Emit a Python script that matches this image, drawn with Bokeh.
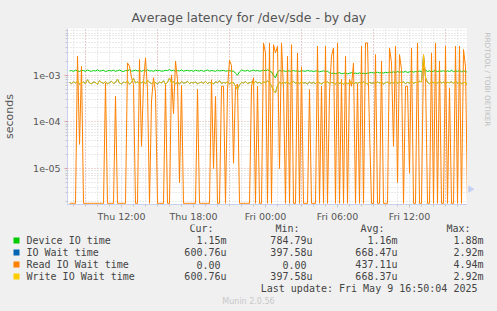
import numpy as np
import pandas as pd
from bokeh.plotting import figure
from bokeh.layouts import column, row
from bokeh.models import FixedTicker, CustomJSTickFormatter, Range1d
from bokeh.core.properties import value
from bokeh.embed import file_html
from bokeh.resources import INLINE

# ---------------- data ----------------
START = "2025-05-08 07:30"   # left edge of the graph
END = "2025-05-09 16:50"     # right edge / last update
STEP_MIN = 10

# latency values in microseconds, one per 10 minutes
device_us = [
    1230, 1260, 1210, 1280, 1240, 1200, 1270, 1250, 1220, 1290,
    1240, 1210, 1260, 1230, 1300, 1220, 1250, 1270, 1200, 1240,
    1260, 1230, 1280, 1210, 1250, 1290, 1230, 1200, 1260, 1240,
    1310, 1220, 1250, 1280, 1230, 1260, 1210, 1270, 1240, 1300,
    1230, 1250, 1210, 1280, 1240, 1260, 1220, 1230, 1270, 1250,
    1320, 1240, 1280, 1210, 1260, 1230, 1290, 1220, 1250, 1270,
    1230, 1260, 1210, 1280, 1240, 1230, 1270, 1210, 1250, 1290,
    1220, 1260, 1240, 1210, 1280, 1230, 1250, 1270, 1220, 1240,
    1260, 1210, 1230, 1100, 1000, 1180, 1290, 1240, 1230, 1270,
    1210, 1250, 1280, 1230, 1260, 1220, 1240, 1290, 1230, 1300,
    1250, 1180, 980, 880, 1150, 1280, 1220, 1250, 1200, 1240,
    1230, 1210, 1260, 1220, 1240, 1200, 1250, 1230, 1210, 1270,
    1220, 1240, 1200, 1230, 1250, 1180, 1210, 1240, 1190, 1220,
    1120, 1090, 1110, 1080, 1100, 1130, 1080, 1090, 1120, 1070,
    1100, 1130, 1090, 1110, 1080, 1120, 1090, 1100, 1070, 1110,
    1120, 1150, 1110, 1130, 1160, 1120, 1140, 1110, 1150, 1130,
    1170, 1140, 1180, 1130, 1200, 1150, 1190, 1160, 1210, 1140,
    1180, 1220, 1160, 1200, 1170, 1230, 1190, 1320, 1280, 1200,
    1240, 1180, 1220, 1260, 1190, 1230, 1210, 1250, 1180, 1240,
    1200, 1270, 1190, 1230, 1210, 1260, 1180, 1240, 1200, 1150,
]

write_us = [
    700, 660, 720, 680, 750, 640, 690, 710, 660, 800,
    680, 650, 720, 690, 640, 760, 700, 670, 730, 650,
    690, 740, 660, 700, 820, 680, 650, 710, 690, 750,
    640, 700, 860, 680, 720, 660, 690, 740, 650, 780,
    700, 660, 720, 690, 650, 710, 680, 760, 640, 700,
    870, 690, 720, 660, 700, 650, 730, 680, 690, 740,
    660, 700, 680, 720, 650, 690, 710, 670, 740, 660,
    700, 680, 650, 720, 690, 760, 660, 700, 680, 720,
    650, 700, 690, 580, 500, 620, 700, 680, 730, 660,
    690, 710, 650, 740, 680, 700, 660, 720, 690, 750,
    680, 600, 470, 420, 600, 710, 660, 700, 680, 720,
    650, 690, 740, 670, 700, 660, 720, 680, 690, 650,
    710, 670, 700, 660, 730, 680, 650, 700, 690, 720,
    660, 700, 680, 650, 710, 670, 690, 640, 700, 660,
    680, 710, 650, 690, 670, 700, 660, 720, 680, 650,
    700, 670, 690, 660, 720, 680, 700, 650, 690, 710,
    660, 700, 680, 740, 670, 710, 690, 720, 660, 700,
    680, 730, 670, 700, 690, 740, 720, 2700, 900, 700,
    660, 720, 690, 700, 670, 740, 680, 710, 660, 700,
    690, 720, 670, 740, 680, 700, 660, 690, 710, 600,
]

# IO wait time is hidden under the write line in the picture (same values)
iowait_us = list(write_us)

read_us = [
    0, 0, 0, 0, 2550, 33, 1560, 0, 0, 0,
    0, 0, 0, 0, 0, 0, 0, 0, 680, 0,
    0, 0, 0, 355, 0, 0, 0, 0, 0, 1830,
    1560, 900, 630, 0, 0, 2160, 30, 700, 2350, 490,
    0, 280, 880, 420, 0, 0, 0, 0, 630, 0,
    0, 1000, 150, 2000, 800, 5, 600, 0, 0, 0,
    0, 0, 0, 0, 500, 0, 0, 0, 0, 0,
    0, 800, 10, 350, 0, 0, 580, 580, 0, 500,
    2100, 1600, 13, 580, 650, 0, 0, 0, 0, 0,
    0, 580, 880, 0, 580, 0, 0, 4900, 3000, 0,
    4900, 0, 4500, 3000, 4170, 10, 4900, 490, 0, 2550,
    0, 4500, 0, 0, 3000, 0, 1500, 0, 0, 0,
    490, 0, 0, 0, 4170, 0, 580, 0, 4170, 0,
    420, 2550, 3840, 0, 4900, 0, 810, 0, 2550, 0,
    810, 580, 1830, 0, 680, 0, 4170, 0, 4900, 4900,
    68, 0, 0, 2760, 0, 0, 2000, 0, 0, 0,
    3840, 1830, 30, 4170, 5, 2760, 1320, 0, 580, 580,
    8, 3840, 0, 0, 4900, 0, 0, 2760, 1000, 0,
    0, 3000, 0, 4900, 0, 2000, 0, 0, 4170, 0,
    535, 0, 0, 4170, 0, 4170, 0, 3540, 1500, 0,
]

tick_times = ["2025-05-08 12:00", "2025-05-08 18:00", "2025-05-09 00:00",
              "2025-05-09 06:00", "2025-05-09 12:00"]
tick_labels = ["Thu 12:00", "Thu 18:00", "Fri 00:00", "Fri 06:00", "Fri 12:00"]
major_grid_times = ["2025-05-08 09:00", "2025-05-08 15:00", "2025-05-08 21:00",
                    "2025-05-09 03:00", "2025-05-09 09:00", "2025-05-09 15:00"]
y_ticks = [1e-5, 1e-4, 1e-3]
y_tick_labels = ["1e-05", "1e-04", "1e-03"]
Y_MIN, Y_MAX = 1.7e-6, 1.0e-2

title_text = "Average latency for /dev/sde - by day"
y_label = "seconds"
legend_names = ["Device IO time", "IO Wait time", "Read IO Wait time", "Write IO Wait time"]
legend_colors = ["#00CC00", "#0066B3", "#FF8000", "#FFCC00"]
col_heads = ["Cur:", "Min:", "Avg:", "Max:"]
cur_vals = ["1.15m", "600.76u", "0.00", "600.76u"]
min_vals = ["784.79u", "397.58u", "0.00", "397.58u"]
avg_vals = ["1.16m", "668.47u", "437.11u", "668.37u"]
max_vals = ["1.88m", "2.92m", "4.94m", "2.92m"]
last_update = "Last update: Fri May  9 16:50:04 2025"
munin_ver = "Munin 2.0.56"
rrd_credit = "RRDTOOL / TOBI OETIKER"

# ---------------- layout constants (canvas pixels) ----------------
W, H = 497, 311
FL, FR, FT, FB = 67, 467, 28, 204   # plot frame edges
PB = 224                            # bottom of the plot panel (x-axis labels)
BG = "#F0F0F0"
AXIS_COL = "#C8D0F0"

def ms(s):
    return pd.Timestamp(s).value / 1e6

n = len(device_us)
t = pd.date_range(pd.Timestamp(START) + pd.Timedelta(minutes=STEP_MIN),
                  periods=n, freq=f"{STEP_MIN}min")

dev = np.array(device_us) * 1e-6
wr = np.array(write_us) * 1e-6
iow = np.array(iowait_us) * 1e-6
rd = np.array(read_us) * 1e-6
rd_plot = np.where(rd <= 0, Y_MIN * 1.06, rd)   # zero is drawn on the floor, as rrdtool does

# ---------------- main plot ----------------
p = figure(width=FR, height=PB, output_backend="svg", toolbar_location=None,
           x_axis_type="datetime", y_axis_type="log", title=title_text,
           x_range=Range1d(ms(START), ms(END)), y_range=Range1d(Y_MIN, Y_MAX),
           min_border_left=FL, min_border_right=0,
           min_border_top=FT, min_border_bottom=PB - FB)
p.background_fill_color = "#FFFFFF"
p.border_fill_color = BG
p.outline_line_color = None
p.title.text_font = "DejaVu Sans"
p.title.text_font_size = "12.5px"
p.title.text_font_style = "normal"
p.title.text_color = "#555555"
p.title.align = "left"
p.title.offset = 64
p.title.standoff = 8

for ax in (p.xaxis[0], p.yaxis[0]):
    ax.axis_line_color = AXIS_COL
    ax.major_label_text_font = "DejaVu Sans"
    ax.major_label_text_font_size = "9.5px"
    ax.major_label_text_color = "#555555"
    ax.minor_tick_line_color = "#C8C8C8"
    ax.minor_tick_in = 0
    ax.minor_tick_out = 2
    ax.major_tick_in = 0
    ax.major_tick_out = 3

hour_ticks = [v for v in np.arange(ms("2025-05-08 08:00"), ms(END), 3600e3)]
p.xaxis.ticker = FixedTicker(ticks=[ms(s) for s in tick_times], minor_ticks=hour_ticks)
p.xaxis.formatter = CustomJSTickFormatter(
    args=dict(tvals=[ms(s) for s in tick_times], tnames=tick_labels),
    code="""
let best = 0;
for (let i = 0; i < tvals.length; i++) {
  if (Math.abs(tvals[i] - tick) < Math.abs(tvals[best] - tick)) best = i;
}
return tnames[best];
""")
p.xaxis.major_tick_line_color = "#C8C8C8"
p.xaxis.major_label_standoff = 3

minor_y = [k * 10.0 ** e for e in range(-6, -1) for k in range(2, 10)]
p.yaxis.ticker = FixedTicker(ticks=y_ticks, minor_ticks=minor_y)
p.yaxis.formatter = CustomJSTickFormatter(
    args=dict(yvals=y_ticks, ynames=y_tick_labels),
    code="""
let best = 0;
for (let i = 0; i < yvals.length; i++) {
  if (Math.abs(Math.log10(yvals[i] / tick)) < Math.abs(Math.log10(yvals[best] / tick))) best = i;
}
return ynames[best];
""")
p.yaxis.major_tick_line_color = "#E0A0A0"
p.yaxis.major_label_standoff = 4
p.yaxis.axis_label = y_label
p.yaxis.axis_label_text_font = "DejaVu Sans"
p.yaxis.axis_label_text_font_size = "11px"
p.yaxis.axis_label_text_font_style = "normal"
p.yaxis.axis_label_text_color = "#555555"
p.yaxis.axis_label_standoff = 14

p.xgrid.ticker = FixedTicker(ticks=[ms(s) for s in major_grid_times], minor_ticks=hour_ticks)
for g in (p.xgrid[0], p.ygrid[0]):
    g.grid_line_color = "#E4AAAA"
    g.grid_line_dash = "1 2"
    g.minor_grid_line_color = "#D4D4D4"
    g.minor_grid_line_dash = "1 2"

p.line(t, dev, line_color=legend_colors[0], line_width=1)
p.line(t, iow, line_color=legend_colors[1], line_width=1)
p.line(t, rd_plot, line_color=legend_colors[2], line_width=1)
p.line(t, wr, line_color=legend_colors[3], line_width=1)

# ---------------- text panels (data units == canvas pixels) ----------------
def panel(x0, x1, y0, y1):
    f = figure(width=x1 - x0, height=y1 - y0, output_backend="svg", toolbar_location=None,
               title=None, x_range=Range1d(x0, x1), y_range=Range1d(y1, y0),
               x_axis_location=None, y_axis_location=None,
               min_border=0, min_border_left=0, min_border_right=0,
               min_border_top=0, min_border_bottom=0)
    f.grid.visible = False
    f.outline_line_color = None
    f.background_fill_color = BG
    f.border_fill_color = BG
    return f

def text(f, x, y, s, size, color, align="left", font="DejaVu Sans", angle=0.0):
    f.text(x=[x], y=[y], text=[s], text_font=value(font), text_font_size=value(f"{size}px"),
           text_color=color, text_align=align, text_baseline="middle", angle=angle)

side = panel(FR, W, 0, PB)
text(side, 487, 5, rrd_credit, 7.3, "#C0C0C0", angle=-np.pi / 2)
# x-axis arrow head right of the frame
side.segment(x0=[FR], y0=[FB + 0.5], x1=[FR + 3], y1=[FB + 0.5], line_color=AXIS_COL, line_width=1)
side.scatter(x=[FR + 3], y=[FB + 0.5], marker="triangle", size=6, angle=-np.pi / 2,
             fill_color=AXIS_COL, line_color=AXIS_COL)

leg = panel(0, W, PB, H)
mono = "DejaVu Sans Mono"
leg_col = "#444444"
head_right = [213, 299, 384, 470]
val_right = [226, 312, 397, 483]
for h, xr in zip(col_heads, head_right):
    text(leg, xr, 227.5, h, 10, leg_col, align="right", font=mono)
rows_y = [240, 252, 264, 276]
leg.rect(x=[16] * 4, y=rows_y, width=6, height=6, fill_color=legend_colors, line_color=None)
for k in range(4):
    y = rows_y[k]
    text(leg, 26, y, legend_names[k], 10, leg_col, font=mono)
    for vals, xr in zip((cur_vals, min_vals, avg_vals, max_vals), val_right):
        v = vals[k]
        xx = xr - 6 if v == "0.00" else xr
        text(leg, xx, y, v, 10, leg_col, align="right", font=mono)
text(leg, 483, 288, last_update, 10, leg_col, align="right", font=mono)
text(leg, 248, 300.5, munin_ver, 8, "#C8C8C8", align="center")

layout = column(row(p, side, spacing=0), leg, spacing=0)
layout.background = BG
open("out.html", "w").write(file_html(layout, INLINE))
